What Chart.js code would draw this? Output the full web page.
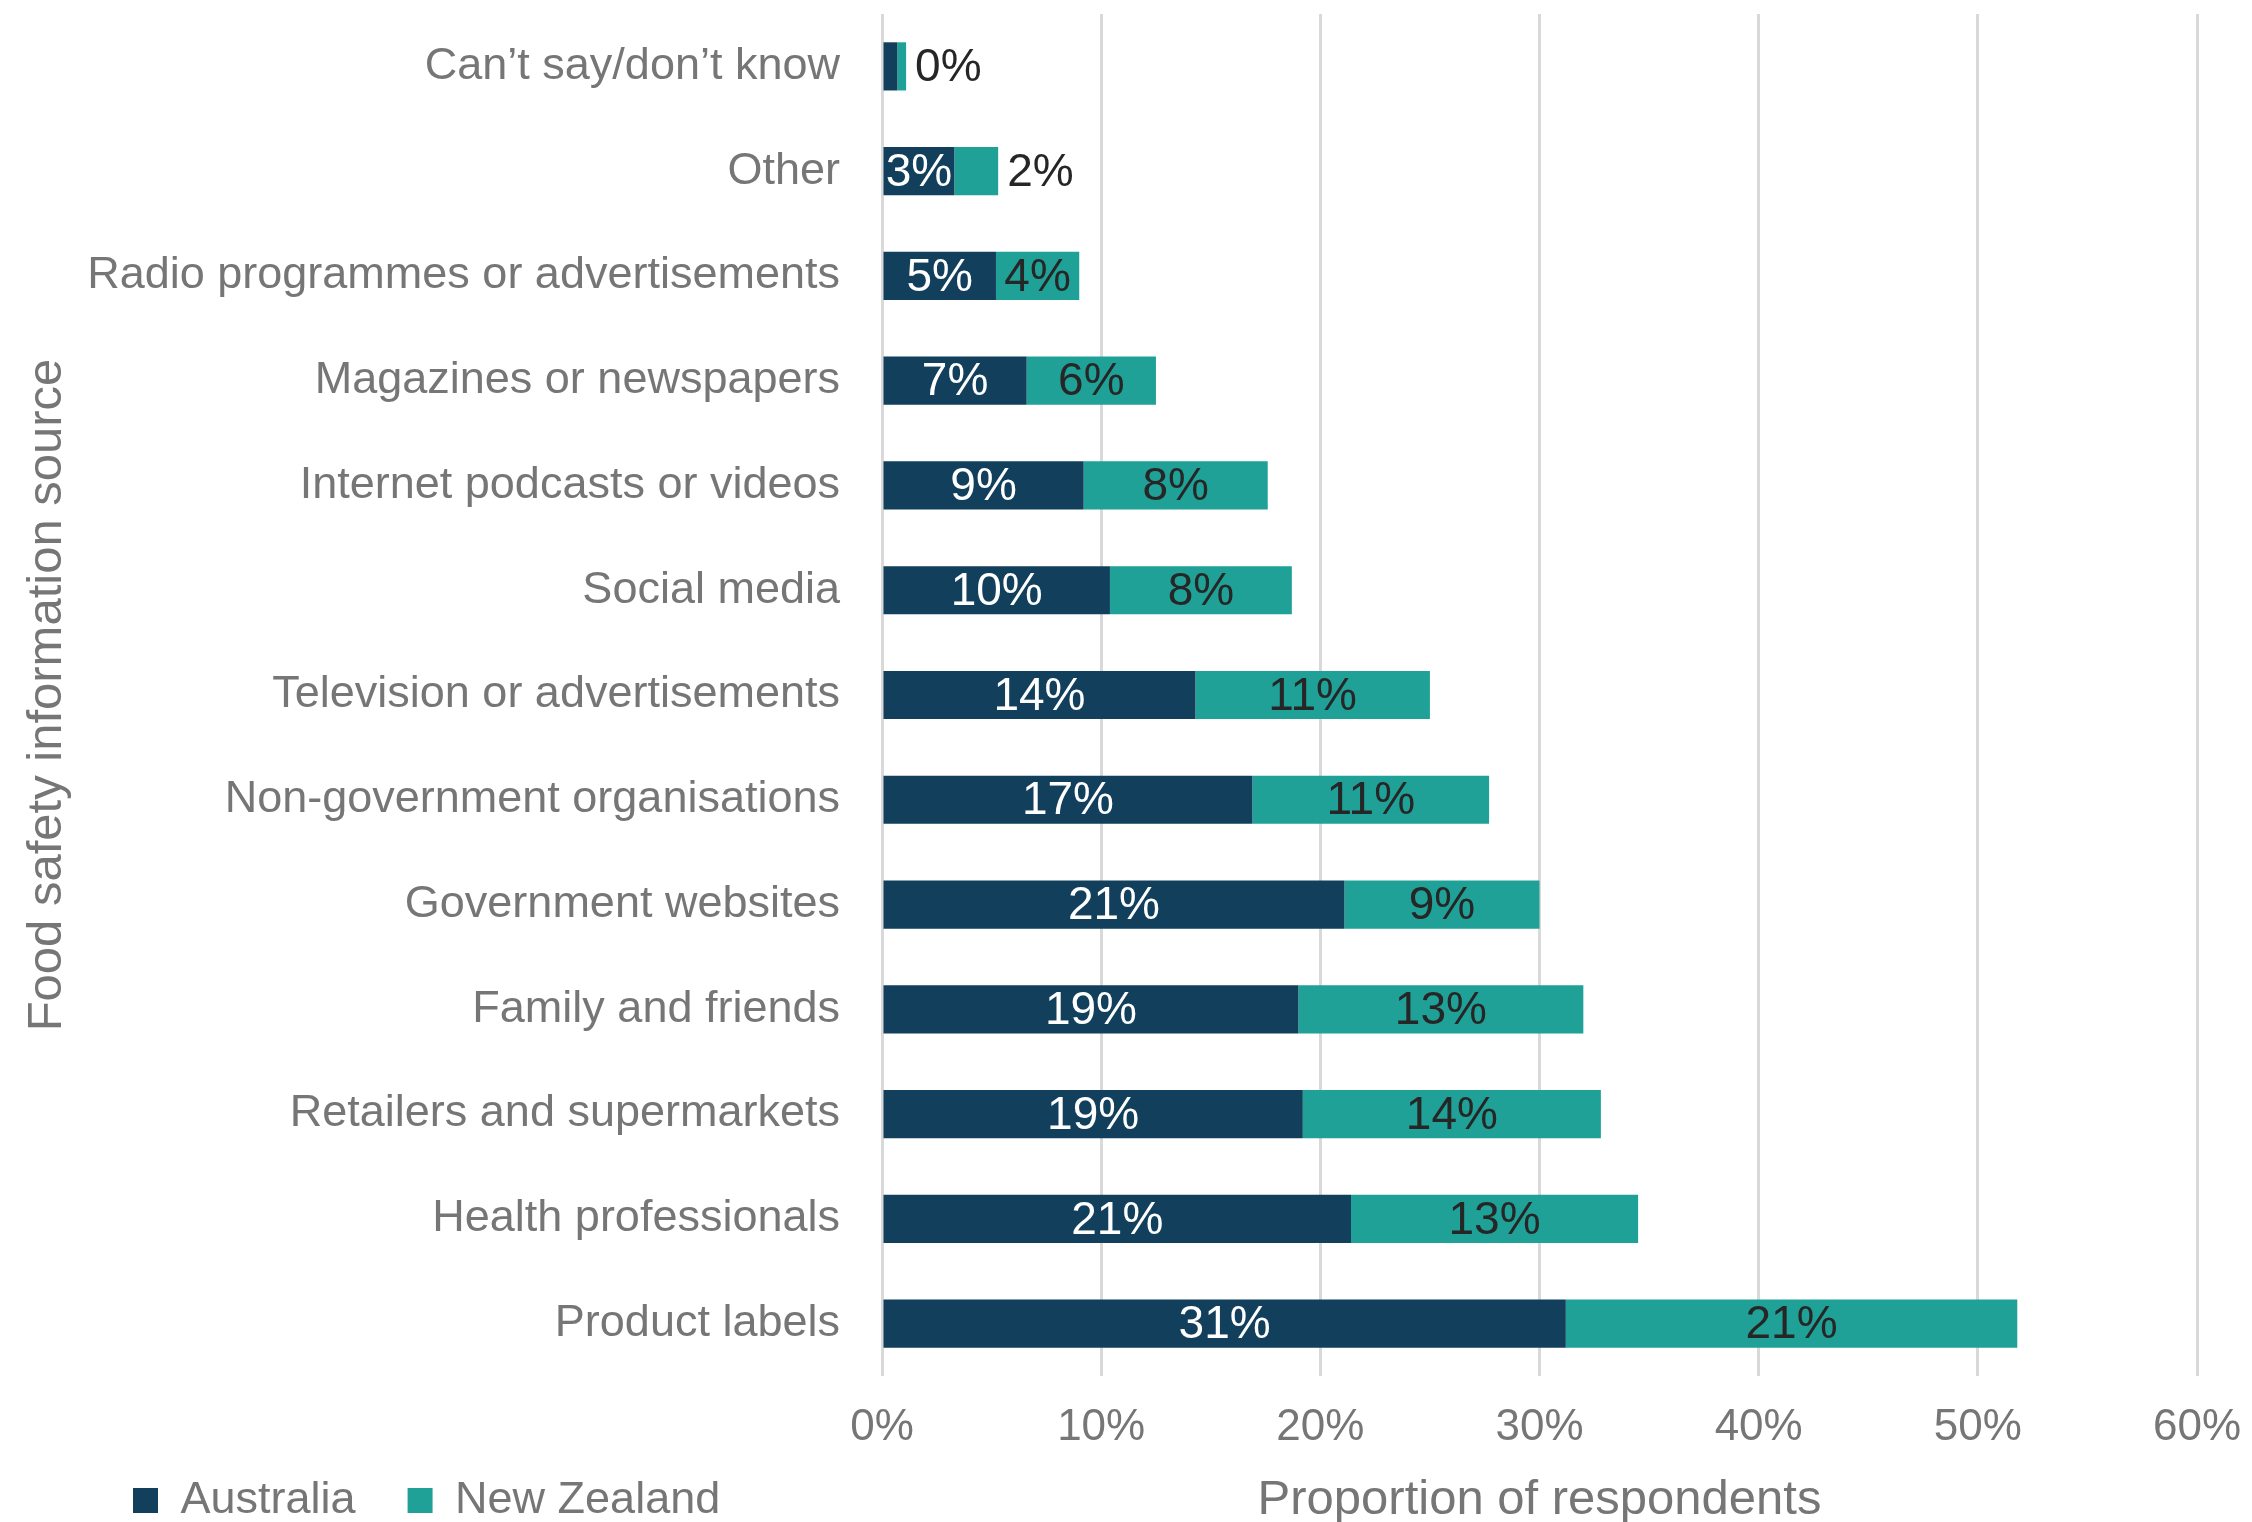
<!doctype html>
<html lang="en">
<head>
    <meta charset="utf-8">
    <title>Food safety information sources</title>
    <script src="https://cdn.jsdelivr.net/npm/chart.js"></script>
    <style>
        html, body { margin: 0; padding: 0; background: #fff; overflow: hidden; }
        #wrap { width: 2252px; height: 1640px; position: relative; }
    </style>
</head>
<body>
<div id="wrap"><canvas id="sources"></canvas></div>
<script>
    // Share of respondents using each source (%), top row first
    var sources = [
        'Can’t say/don’t know',
        'Other',
        'Radio programmes or advertisements',
        'Magazines or newspapers',
        'Internet podcasts or videos',
        'Social media',
        'Television or advertisements',
        'Non-government organisations',
        'Government websites',
        'Family and friends',
        'Retailers and supermarkets',
        'Health professionals',
        'Product labels'
    ];
    var australia = [0.7, 3.3, 5.2, 6.6, 9.2, 10.4, 14.3, 16.9, 21.1, 19.0, 19.2, 21.4, 31.2];
    var newZealand = [0.4, 2.0, 3.8, 5.9, 8.4, 8.3, 10.7, 10.8, 8.9, 13.0, 13.6, 13.1, 20.6];
    var xTicks = [0, 10, 20, 30, 40, 50, 60];

    var grey = '#767676';
    Chart.defaults.font.family = '"Liberation Sans", Arial, sans-serif';
    Chart.defaults.color = grey;

    // writes the rounded percentage in each segment; if it does not fit,
    // the last series puts it just past the end of the stack
    var barLabels = {
        id: 'barLabels',
        afterDatasetsDraw: function (chart) {
            var ctx = chart.ctx;
            var last = chart.data.datasets.length - 1;
            ctx.save();
            ctx.font = '46px "Liberation Sans", Arial, sans-serif';
            ctx.textBaseline = 'middle';
            chart.data.datasets.forEach(function (ds, i) {
                chart.getDatasetMeta(i).data.forEach(function (bar, j) {
                    var text = Math.round(ds.data[j]) + '%';
                    var w = ctx.measureText(text).width;
                    var left = Math.min(bar.x, bar.base);
                    var right = Math.max(bar.x, bar.base);
                    if (w + 4 <= right - left) {
                        ctx.textAlign = 'center';
                        ctx.fillStyle = ds.labelColor;
                        ctx.fillText(text, (left + right) / 2, bar.y + 2);
                    } else if (i === last) {
                        ctx.textAlign = 'left';
                        ctx.fillStyle = '#262626';
                        ctx.fillText(text, right + 9, bar.y + 2);
                    }
                });
            });
            ctx.restore();
        }
    };

    // legend shares the bottom line with the x-axis title
    var legendRow = {
        id: 'legendRow',
        afterLayout: function (chart) {
            var legend = chart.legend;
            var h = legend.height;
            legend.bottom = chart.scales.x.bottom;
            legend.top = legend.bottom - h;
        }
    };

    new Chart(document.getElementById('sources'), {
        type: 'bar',
        data: {
            labels: sources,
            datasets: [{
                label: 'Australia',
                data: australia,
                backgroundColor: '#113f5c',
                labelColor: '#ffffff',
                barPercentage: 0.46,
                categoryPercentage: 1.0
            }, {
                label: 'New Zealand',
                data: newZealand,
                backgroundColor: '#1fa198',
                labelColor: '#262626',
                barPercentage: 0.46,
                categoryPercentage: 1.0
            }]
        },
        plugins: [barLabels, legendRow],
        options: {
            indexAxis: 'y',
            responsive: true,
            maintainAspectRatio: false,
            animation: false,
            layout: {
                padding: {left: 81, right: 55, top: 14, bottom: 0}
            },
            scales: {
                x: {
                    stacked: true,
                    min: 0,
                    max: 60,
                    afterBuildTicks: function (scale) {
                        scale.ticks = xTicks.map(function (v) { return {value: v}; });
                    },
                    afterFit: function (scale) {
                        scale.height = 157;
                    },
                    border: {display: false},
                    grid: {
                        color: '#d9d9d9',
                        lineWidth: 3,
                        tickLength: 25,
                        tickColor: 'transparent'
                    },
                    ticks: {
                        padding: 0,
                        color: grey,
                        font: {size: 44},
                        callback: function (v) { return v + '%'; }
                    },
                    title: {
                        display: true,
                        text: 'Proportion of respondents',
                        color: grey,
                        font: {size: 49},
                        padding: {top: 0, bottom: 3}
                    }
                },
                y: {
                    stacked: true,
                    afterFit: function (scale) {
                        scale.width = 801;
                    },
                    border: {display: false},
                    grid: {
                        drawOnChartArea: false,
                        tickLength: 42,
                        tickColor: 'transparent'
                    },
                    ticks: {
                        padding: 0,
                        color: grey,
                        font: {size: 45, lineHeight: 0.6}
                    },
                    title: {
                        display: true,
                        text: 'Food safety information source',
                        color: grey,
                        font: {size: 49},
                        padding: {top: -63, bottom: 0}
                    }
                }
            },
            plugins: {
                legend: {
                    position: 'bottom',
                    align: 'start',
                    labels: {
                        color: grey,
                        font: {size: 45},
                        boxWidth: 25,
                        boxHeight: 25,
                        padding: 52
                    }
                },
                tooltip: {enabled: false}
            }
        }
    });
</script>
</body>
</html>
